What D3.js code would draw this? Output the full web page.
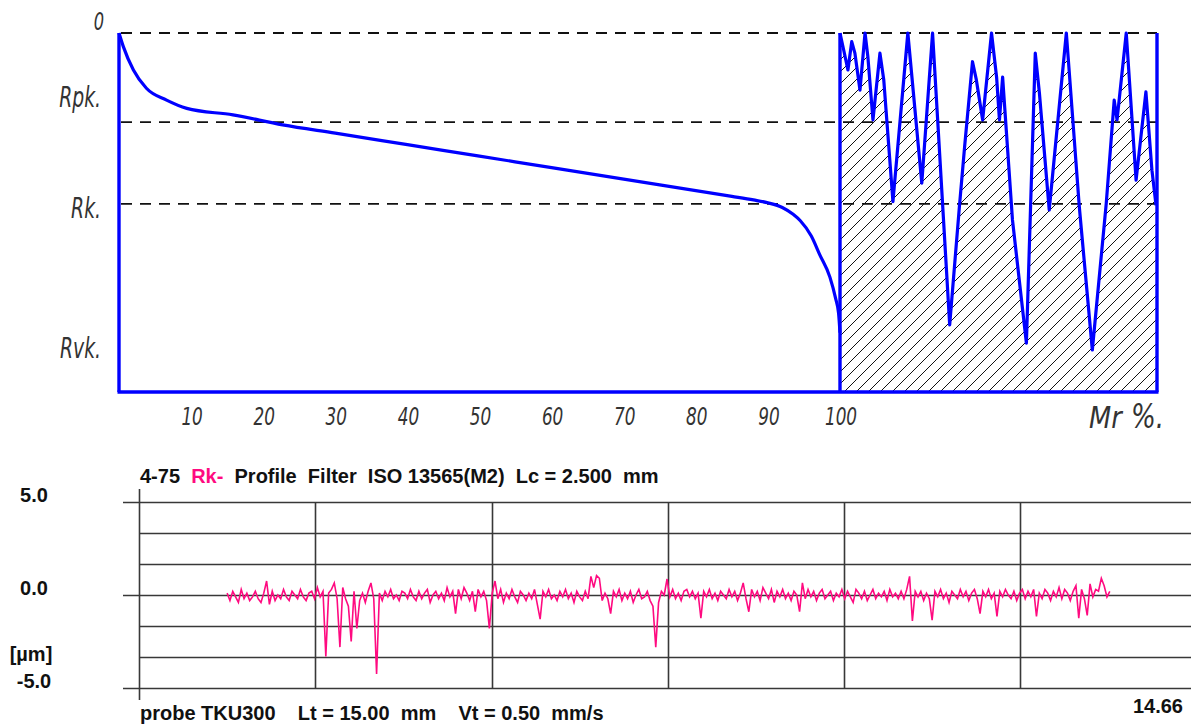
<!DOCTYPE html>
<html>
<head>
<meta charset="utf-8">
<script src="https://cdn.jsdelivr.net/npm/d3@7/dist/d3.min.js"></script>
<style>
    body { margin: 0; background: #fff; }
    svg { display: block; }
    .iso { font-family: "Liberation Sans Narrow", "DejaVu Sans Condensed", sans-serif; font-style: italic; fill: #333; }
    .bold { font-family: "Liberation Sans", Arial, sans-serif; font-weight: bold; font-size: 20px; fill: #111; white-space: pre; }
</style>
</head>
<body>
<div id="chart"></div>
<script>
// ---- Material ratio chart (top) ----
// Abbott-Firestone curve: Mr in %, depth in % of the plot height (0 = top)
var abbottMr    = [0, 0.6, 2, 3.8, 6.6, 9.4, 15.8, 22.7, 30, 40, 50, 60, 70, 80, 85, 88, 90, 92, 93.5, 94.5, 96, 97.2, 98.6, 99.4, 99.8, 100];
var abbottDepth = [0, 3.8, 10.3, 15.4, 18.7, 21, 22.8, 25.6, 27.9, 31.1, 34.3, 37.5, 40.7, 43.9, 45.5, 46.5, 47.3, 48.6, 50.5, 52.3, 56.5, 61.8, 68, 74, 78, 83.5];

// profile segment drawn in the hatched box (position 0-100 across the box)
var boxPos   = [0, 1.3, 2.5, 3.7, 4.7, 6.3, 7.9, 8.8, 10.4, 12.6, 13.8, 16.7, 21.4, 25.8, 29.2, 34.6, 37.7, 39.3, 41.8, 43, 45, 47.8, 49.4, 50.3, 51.3, 54.4, 58.8, 61.6, 62.9, 66, 71.4, 75.5, 79.6, 84, 86.5, 87.4, 90.3, 93.4, 96.5, 98.4, 99.7];
var boxDepth = [0, 5.3, 10.3, 2.4, 5.6, 15.9, 0, 6.7, 24.2, 5.6, 13, 47, 0, 41.8, 0, 81.3, 48, 31.8, 8, 13, 24.2, 0, 12.3, 24.2, 12.3, 52, 86.4, 5.6, 16.7, 49.3, 0, 48.5, 88.3, 47.4, 18.7, 24.2, 0, 41, 16.4, 38.2, 48];

var dashedDepth = [0, 24.8, 47.6];
var levelNames = ["0", "Rpk.", "Rk.", "Rvk."];
var levelLabelDepth = [-0.8, 20.6, 51.5, 90.5];
var mrTicks = [10, 20, 30, 40, 50, 60, 70, 80, 90, 100];

// ---- Roughness profile (bottom) ----
var profileStartMm = 1.25;
var profileStepMm = 0.04;
var profileValues = [
    0.1, -0.3, 0.2, -0.1, -0.4, 0.3, -0.2, 0.1, -0.3, -0.1, 0.2, -0.2, -0.4, 0.1, 0.75, -0.5, 0.2, -0.3, 0.0, -0.2,
    0.3, -0.1, -0.3, 0.2, 0.0, -0.2, 0.3, -0.1, -0.3, 0.1, 0.2, -0.2, 0.4, -0.1, 0.2, -3.3, 0.1, 0.3, 0.65, -0.2,
    -2.8, 0.4, -0.2, -0.6, -2.5, 0.2, -1.8, -0.3, 0.1, -0.4, 0.2, 0.65, -0.2, -4.25, 0.1, -0.3, 0.2, -0.1, 0.3, -0.2,
    0.0, -0.3, 0.2, 0.1, -0.2, 0.3, -0.1, -0.3, 0.2, -0.2, 0.1, 0.3, -0.4, 0.0, 0.2, -0.2, 0.1, -0.3, 0.4, -0.1,
    0.2, -1.0, 0.3, -0.2, 0.4, 0.1, -0.3, 0.2, -0.9, 0.3, -0.1, 0.2, -0.3, -1.8, 0.1, 0.75, -0.2, 0.3, -0.4, 0.1,
    -0.2, 0.3, -0.1, -0.4, 0.2, 0.0, -0.3, 0.1, -0.2, 0.3, -0.5, -1.3, 0.2, -0.1, 0.3, -0.2, 0.0, -0.3, 0.2, -0.1,
    0.3, -0.2, 0.1, -0.4, 0.2, -0.1, -0.3, 0.2, -0.2, 1.0, 0.4, 1.05, 0.9, -0.3, 0.1, -0.2, -1.0, 0.2, -0.1, 0.3,
    -0.3, 0.1, -0.2, 0.2, -0.4, 0.0, 0.3, -0.2, -0.1, 0.2, -0.3, -0.6, -2.8, -0.4, 0.2, 0.0, 0.86, -0.1, 0.3, -0.2,
    0.1, -0.3, 0.2, 0.3, -0.1, 0.2, -0.2, 0.1, -1.25, 0.2, -0.1, 0.3, -0.2, 0.1, -0.3, 0.2, 0.0, -0.2, 0.3, -0.1,
    0.2, -0.3, 0.1, 0.65, -0.2, -0.9, 0.3, -0.1, 0.2, -0.3, 0.4, 0.1, -0.2, 0.3, -0.4, 0.2, -0.1, 0.3, -0.2, 0.1,
    -0.3, 0.2, 0.0, -0.9, 0.65, -0.2, 0.3, -0.1, 0.2, -0.3, 0.1, 0.3, -0.2, 0.0, 0.2, -0.3, 0.1, -0.1, 0.3, -0.2,
    0.2, -0.1, -0.4, 0.3, 0.1, -0.2, 0.2, -0.3, 0.0, 0.3, -0.2, 0.1, -0.1, 0.2, -0.3, 0.3, -0.1, 0.1, -0.2, 0.2,
    -0.2, 0.3, 1.0, -1.4, 0.2, -0.1, 0.2, -0.3, 0.1, -0.2, -1.35, 0.2, -0.1, 0.3, -0.2, 0.1, -0.4, 0.2, 0.0, -0.2,
    0.3, -0.1, 0.2, -0.3, 0.1, 0.3, -0.2, -1.0, 0.2, -0.1, 0.3, -0.2, 0.1, -1.15, 0.2, -0.1, 0.3, 0.0, -0.2, 0.2,
    -0.3, 0.1, 0.3, -0.2, 0.2, -0.1, 0.3, -1.15, 0.1, -0.2, 0.3, 0.1, -0.3, 0.2, -0.1, 0.4, -0.2, 0.3, 0.1, -0.3,
    0.2, 0.5, -1.25, 0.3, -0.2, -1.1, 0.6, -0.1, 0.3, 0.2, 0.9, 0.5, -0.1, 0.2
];
var gridMm = [2.5, 5, 7.5, 10, 12.5];
var gridUm = [5, 10 / 3, 5 / 3, 0, -5 / 3, -10 / 3, -5];
var majorUm = [5, 0, -5];
var umLabels = ["5.0", "0.0", "-5.0"];

var BLUE = "#0000ff";
var PINK = "#ff0a80";
var GRID = "#383838";

var svg = d3.select("#chart").append("svg")
    .attr("width", 1191)
    .attr("height", 724);

/**
 * Squeezes an italic label so it looks like the narrow drafting font of the original
 */
function squeeze(selection, factor) {
    selection.each(function() {
        var len = this.getComputedTextLength();
        d3.select(this)
            .attr("textLength", len * factor)
            .attr("lengthAdjust", "spacingAndGlyphs");
    });
}

/**
 * Top chart: material ratio curve with Rpk / Rk levels and hatched profile box
 */
var xMr = d3.scaleLinear().domain([0, 100]).range([119, 840]);
var xBox = d3.scaleLinear().domain([0, 100]).range([840, 1157]);
var yDepth = d3.scaleLinear().domain([0, 100]).range([33, 392]);

var defs = svg.append("defs");
defs.append("pattern")
    .attr("id", "hatch")
    .attr("patternUnits", "userSpaceOnUse")
    .attr("width", 12)
    .attr("height", 12)
    .append("path")
    .attr("d", "M0,12 L12,0 M-3,3 L3,-3 M9,15 L15,9")
    .attr("stroke", "#111")
    .attr("stroke-width", 1);

var ratioChart = svg.append("g");

//Dashed level lines
ratioChart.selectAll(".level")
    .data(dashedDepth)
    .enter().append("line")
    .attr("class", "level")
    .attr("x1", xMr(0) + 2).attr("x2", xBox(100))
    .attr("y1", function(d) { return yDepth(d); })
    .attr("y2", function(d) { return yDepth(d); })
    .attr("stroke", "#111")
    .attr("stroke-width", 1.8)
    .attr("stroke-dasharray", "11,8");

var boxData = boxPos.map(function(p, i) { return {p: p, d: boxDepth[i]}; });

ratioChart.append("path")
    .datum(boxData)
    .attr("fill", "url(#hatch)")
    .attr("d", d3.area()
        .x(function(d) { return xBox(d.p); })
        .y0(yDepth(100))
        .y1(function(d) { return yDepth(d.d); }));

ratioChart.append("path")
    .datum(boxData)
    .attr("fill", "none")
    .attr("stroke", BLUE)
    .attr("stroke-width", 3.2)
    .attr("stroke-linejoin", "round")
    .attr("d", d3.line()
        .x(function(d) { return xBox(d.p); })
        .y(function(d) { return yDepth(d.d); }));

var abbottData = abbottMr.map(function(m, i) { return {m: m, d: abbottDepth[i]}; });
ratioChart.append("path")
    .datum(abbottData)
    .attr("fill", "none")
    .attr("stroke", BLUE)
    .attr("stroke-width", 3.2)
    .attr("d", d3.line()
        .curve(d3.curveMonotoneX)
        .x(function(d) { return xMr(d.m); })
        .y(function(d) { return yDepth(d.d); }));

//Blue frame: left axis, bottom axis and box sides
var frame = [
    [xMr(0), yDepth(0), xMr(0), yDepth(100)],
    [xMr(0) - 1.5, yDepth(100), xBox(100) + 1.5, yDepth(100)],
    [xBox(0), yDepth(0), xBox(0), yDepth(100)],
    [xBox(100), yDepth(0), xBox(100), yDepth(100)]
];
ratioChart.selectAll(".frame")
    .data(frame)
    .enter().append("line")
    .attr("x1", function(d) { return d[0]; })
    .attr("y1", function(d) { return d[1]; })
    .attr("x2", function(d) { return d[2]; })
    .attr("y2", function(d) { return d[3]; })
    .attr("stroke", BLUE)
    .attr("stroke-width", 3.4);

//Level labels
ratioChart.selectAll(".lvl-label")
    .data(levelNames)
    .enter().append("text")
    .attr("class", "iso")
    .attr("x", function(d, i) { return i === 0 ? 104 : 101; })
    .attr("y", function(d, i) { return yDepth(levelLabelDepth[i]); })
    .attr("text-anchor", "end")
    .style("font-size", function(d, i) { return i === 0 ? "25px" : "29px"; })
    .text(function(d) { return d; })
    .call(squeeze, 0.72);

//Mr ticks
ratioChart.selectAll(".mr-tick")
    .data(mrTicks)
    .enter().append("text")
    .attr("class", "iso")
    .attr("x", function(d) { return xMr(d) + 1; })
    .attr("y", 425)
    .attr("text-anchor", "middle")
    .style("font-size", "24px")
    .text(function(d) { return d; })
    .call(squeeze, 0.78);

//Axis title "Mr %."
ratioChart.append("text")
    .attr("class", "iso")
    .attr("x", 1089)
    .attr("y", 428)
    .style("font-size", "31px")
    .text("Mr")
    .call(squeeze, 0.92);

ratioChart.append("text")
    .attr("class", "iso")
    .attr("x", 1131)
    .attr("y", 428)
    .style("font-size", "33px")
    .text("%.")
    .call(squeeze, 0.88);

/**
 * Bottom chart: filtered roughness profile
 */
var xMm = d3.scaleLinear().domain([0, 15]).range([139, 139 + 70.5 * 15]);
var yUm = d3.scaleLinear().domain([5, -5]).range([502, 688]);

var profileChart = svg.append("g");

profileChart.selectAll(".hgrid")
    .data(gridUm)
    .enter().append("line")
    .attr("x1", function(d) { return majorUm.indexOf(d) >= 0 ? 123 : xMm(0); })
    .attr("x2", 1191)
    .attr("y1", function(d) { return Math.round(yUm(d)) + 0.5; })
    .attr("y2", function(d) { return Math.round(yUm(d)) + 0.5; })
    .attr("stroke", GRID)
    .attr("stroke-width", 1.6);

profileChart.selectAll(".vgrid")
    .data(gridMm)
    .enter().append("line")
    .attr("x1", function(d) { return Math.round(xMm(d)) + 0.5; })
    .attr("x2", function(d) { return Math.round(xMm(d)) + 0.5; })
    .attr("y1", yUm(5))
    .attr("y2", yUm(-5))
    .attr("stroke", GRID)
    .attr("stroke-width", 1.6);

profileChart.append("line")
    .attr("x1", xMm(0) + 0.5).attr("x2", xMm(0) + 0.5)
    .attr("y1", 489).attr("y2", 700)
    .attr("stroke", GRID)
    .attr("stroke-width", 1.6);

profileChart.append("path")
    .datum(profileValues)
    .attr("fill", "none")
    .attr("stroke", PINK)
    .attr("stroke-width", 1.6)
    .attr("d", d3.line()
        .x(function(d, i) { return xMm(profileStartMm + i * profileStepMm); })
        .y(function(d) { return yUm(d); }));

profileChart.selectAll(".um-label")
    .data(majorUm)
    .enter().append("text")
    .attr("class", "bold")
    .attr("x", 34)
    .attr("y", function(d) { return yUm(d); })
    .attr("text-anchor", "middle")
    .text(function(d, i) { return umLabels[i]; });

profileChart.append("text")
    .attr("class", "bold")
    .attr("x", 31)
    .attr("y", yUm(-3.55))
    .attr("text-anchor", "middle")
    .text("[\u00b5m]");

var title = profileChart.append("text")
    .attr("class", "bold")
    .attr("x", 140)
    .attr("y", 483);
title.append("tspan").text("4-75  ");
title.append("tspan").style("fill", PINK).text("Rk-");
title.append("tspan").text("  Profile  Filter  ISO 13565(M2)  Lc = 2.500  mm");

profileChart.append("text")
    .attr("class", "bold")
    .attr("x", 140)
    .attr("y", 720)
    .text("probe TKU300    Lt = 15.00  mm    Vt = 0.50  mm/s");

profileChart.append("text")
    .attr("class", "bold")
    .attr("x", 1183)
    .attr("y", 713)
    .attr("text-anchor", "end")
    .text("14.66");
</script>
</body>
</html>
